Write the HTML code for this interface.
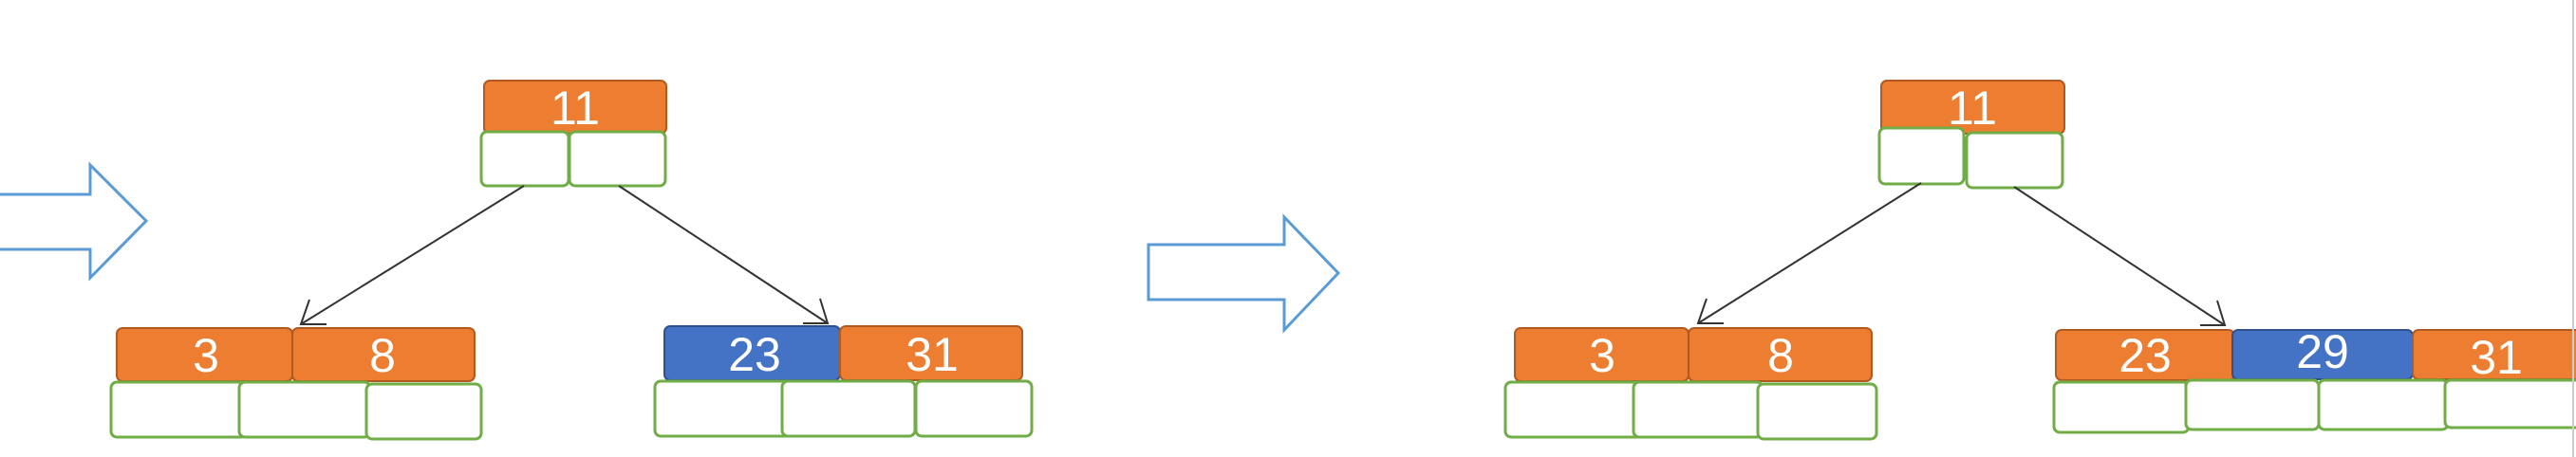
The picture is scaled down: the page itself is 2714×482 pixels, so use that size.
<!DOCTYPE html>
<html><head><meta charset="utf-8"><style>
html,body{margin:0;padding:0;background:#fff;width:2714px;height:482px;overflow:hidden}
svg{display:block}
text{font-family:"Liberation Sans Narrow","Liberation Sans",sans-serif;font-size:50px;fill:#fff;text-anchor:middle}
.o{fill:#ED7D31;stroke:#AE5A21;stroke-width:2}
.b{fill:#4472C4;stroke:#2F528F;stroke-width:2}
.g{fill:#fff;stroke:#70AD47;stroke-width:3}
.ar{fill:#fff;stroke:#5B9BD5;stroke-width:3}
.l{stroke:#333;stroke-width:2;fill:none}
</style></head><body>
<svg width="2714" height="482" viewBox="0 0 2714 482" xmlns="http://www.w3.org/2000/svg">
<polygon class="ar" points="-5,205 95,205 95,174 154,233 95,293 95,263 -5,263"/>
<polygon class="ar" points="1210,258 1353,258 1353,229 1410,288 1353,348 1353,316 1210,316"/>

<rect class="o" x="510" y="85" width="192" height="56" rx="6"/>
<text x="606" y="131">11</text>
<rect class="g" x="507" y="139" width="92" height="57" rx="6"/>
<rect class="g" x="600" y="139" width="101" height="57" rx="6"/>
<line class="l" x1="552" y1="196" x2="317" y2="342"/>
<polyline class="l" points="326,316 317,342 344,342"/>
<line class="l" x1="652" y1="196" x2="872" y2="341"/>
<polyline class="l" points="864,315 872,341 846,341"/>

<rect class="o" x="123" y="346" width="185" height="56" rx="6"/>
<rect class="o" x="308" y="346" width="192" height="56" rx="6"/>
<text x="217" y="392">3</text><text x="403" y="392">8</text>
<rect class="g" x="117" y="403" width="143" height="58" rx="6"/>
<rect class="g" x="252" y="403" width="138" height="58" rx="6"/>
<rect class="g" x="386" y="405" width="121" height="58" rx="6"/>

<rect class="b" x="700" y="344" width="185" height="57" rx="6"/>
<rect class="o" x="885" y="344" width="192" height="57" rx="6"/>
<text x="795" y="391">23</text><text x="982" y="391">31</text>
<rect class="g" x="690" y="402" width="156" height="58" rx="6"/>
<rect class="g" x="824" y="402" width="140" height="58" rx="6"/>
<rect class="g" x="965" y="402" width="122" height="58" rx="6"/>

<rect class="o" x="1982" y="85" width="193" height="56" rx="6"/>
<text x="2078" y="131">11</text>
<rect class="g" x="1980" y="135" width="89" height="59" rx="6"/>
<rect class="g" x="2072" y="140" width="101" height="58" rx="6"/>
<line class="l" x1="2024" y1="193" x2="1789" y2="341"/>
<polyline class="l" points="1798,315 1789,341 1816,341"/>
<line class="l" x1="2122" y1="197" x2="2344" y2="343"/>
<polyline class="l" points="2336,317 2344,343 2318,343"/>

<rect class="o" x="1596" y="346" width="183" height="56" rx="6"/>
<rect class="o" x="1779" y="346" width="193" height="56" rx="6"/>
<text x="1688" y="392">3</text><text x="1876" y="392">8</text>
<rect class="g" x="1586" y="403" width="155" height="58" rx="6"/>
<rect class="g" x="1721" y="403" width="136" height="58" rx="6"/>
<rect class="g" x="1852" y="405" width="125" height="58" rx="6"/>

<rect class="o" x="2166" y="348" width="188" height="53" rx="6"/>
<rect class="b" x="2352" y="348" width="190" height="52" rx="6"/>
<rect class="o" x="2542" y="348" width="180" height="52" rx="6"/>
<text x="2260" y="392">23</text><text x="2447" y="388">29</text><text x="2630" y="394">31</text>
<rect class="g" x="2164" y="403" width="142" height="53" rx="6"/>
<rect class="g" x="2303" y="401" width="140" height="52" rx="6"/>
<rect class="g" x="2443" y="401" width="136" height="52" rx="6"/>
<rect class="g" x="2576" y="401" width="145" height="50" rx="6"/>
<line x1="2711" y1="0" x2="2711" y2="482" stroke="#ccc" stroke-width="2"/>
</svg>
</body></html>
